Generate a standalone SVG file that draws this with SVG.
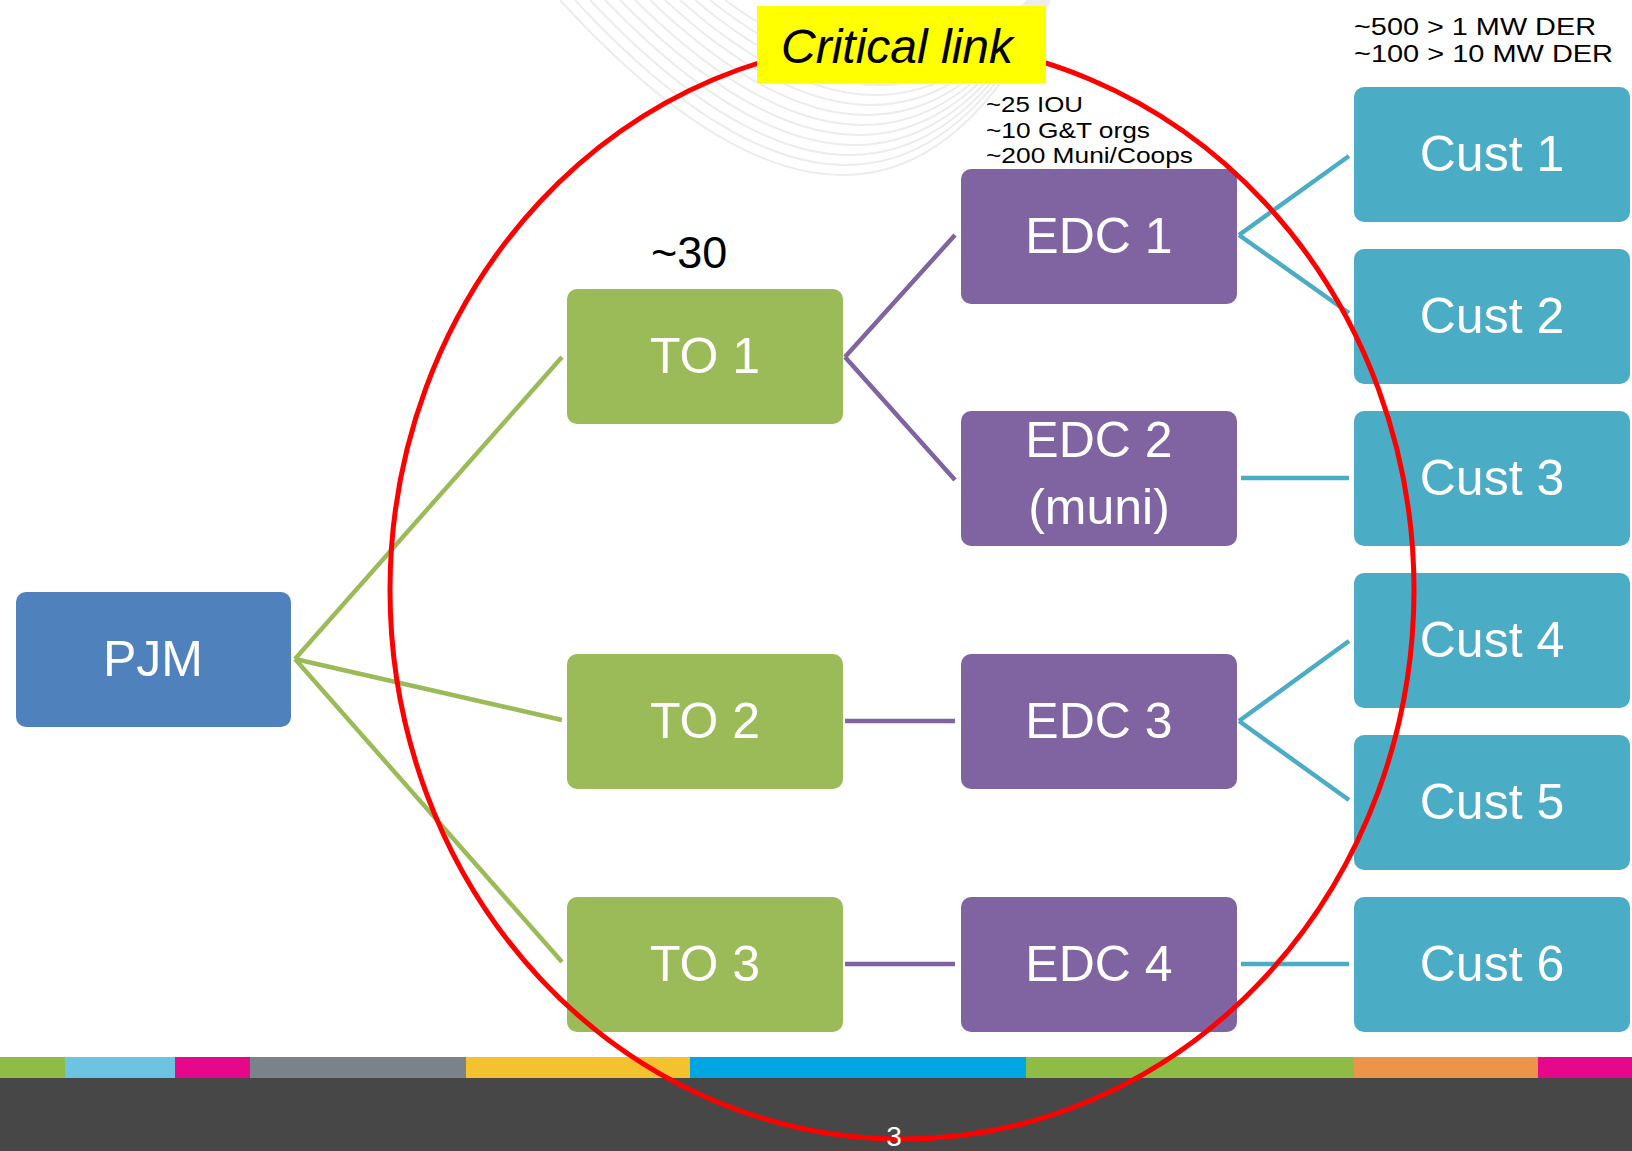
<svg xmlns="http://www.w3.org/2000/svg" width="1632" height="1151" viewBox="0 0 1632 1151">
<style>
.node text{font-family:"Liberation Sans",Arial,sans-serif;font-size:50px;fill:#ffffff;text-anchor:middle}
.lbl{font-family:"Liberation Sans",Arial,sans-serif;fill:#000000}
.to rect{fill:#9BBB59}
.edc rect{fill:#8064A2}
.cust rect{fill:#4BACC6}
.pjm rect{fill:#4F81BD}
.g{stroke:#9BBB59;stroke-width:4.5;fill:none}
.p{stroke:#8064A2;stroke-width:4.5;fill:none}
.b{stroke:#4BACC6;stroke-width:4.5;fill:none}
.wm{stroke:#ececec;stroke-width:2;fill:none}
</style>
<rect x="0" y="0" width="1632" height="1151" fill="#ffffff"/>
<g id="watermark">
<path class="wm" d="M560,0 Q880,350 1050,0"/>
<path class="wm" d="M575,0 Q880,330 1048,0"/>
<path class="wm" d="M590,0 Q882,310 1046,0"/>
<path class="wm" d="M605,0 Q884,290 1044,0"/>
<path class="wm" d="M620,0 Q886,270 1042,0"/>
<path class="wm" d="M635,0 Q888,250 1040,0"/>
<path class="wm" d="M650,0 Q890,230 1038,0"/>
<path class="wm" d="M665,0 Q892,210 1036,0"/>
<path class="wm" d="M680,0 Q894,190 1034,0"/>
<path class="wm" d="M695,0 Q896,170 1032,0"/>
<path class="wm" d="M710,0 Q898,150 1030,0"/>
<path class="wm" d="M725,0 Q900,130 1028,0"/>
</g>
<g id="footer">
<rect x="0" y="1078" width="1632" height="73" fill="#474747"/>
<rect x="0" y="1057" width="65" height="21" fill="#8FBC45"/>
<rect x="65" y="1057" width="110" height="21" fill="#6CC3E2"/>
<rect x="175" y="1057" width="75" height="21" fill="#E6078A"/>
<rect x="250" y="1057" width="216" height="21" fill="#7A8389"/>
<rect x="466" y="1057" width="224" height="21" fill="#F4C22F"/>
<rect x="690" y="1057" width="336" height="21" fill="#00A6E2"/>
<rect x="1026" y="1057" width="328" height="21" fill="#8FBC45"/>
<rect x="1354" y="1057" width="184" height="21" fill="#EC9548"/>
<rect x="1538" y="1057" width="94" height="21" fill="#E6078A"/>
</g>
<g id="connectors">
<path class="g" d="M295,659 L562,357 M295,659 L562,720 M295,659 L562,962"/>
<path class="p" d="M845,357 L955,235 M845,357 L955,480 M845,721 L955,721 M845,964 L955,964"/>
<path class="b" d="M1239,235 L1349,156 M1239,235 L1349,313 M1241,478 L1349,478 M1239,721 L1349,641 M1239,721 L1349,800 M1241,964 L1349,964"/>
</g>
<g id="pjm" class="node pjm"><rect x="16" y="592" width="275" height="135" rx="10"/><text x="153" y="676">PJM</text></g>
<g id="to1" class="node to"><rect x="567" y="289" width="276" height="135" rx="10"/><text x="705" y="373">TO 1</text></g>
<g id="to2" class="node to"><rect x="567" y="654" width="276" height="135" rx="10"/><text x="705" y="738">TO 2</text></g>
<g id="to3" class="node to"><rect x="567" y="897" width="276" height="135" rx="10"/><text x="705" y="981">TO 3</text></g>
<g id="edc1" class="node edc"><rect x="961" y="169" width="276" height="135" rx="10"/><text x="1099" y="253">EDC 1</text></g>
<g id="edc2" class="node edc"><rect x="961" y="411" width="276" height="135" rx="10"/><text x="1099" y="457">EDC 2</text><text x="1099" y="524">(muni)</text></g>
<g id="edc3" class="node edc"><rect x="961" y="654" width="276" height="135" rx="10"/><text x="1099" y="738">EDC 3</text></g>
<g id="edc4" class="node edc"><rect x="961" y="897" width="276" height="135" rx="10"/><text x="1099" y="981">EDC 4</text></g>
<g id="cust1" class="node cust"><rect x="1354" y="87" width="276" height="135" rx="10"/><text x="1492" y="171">Cust 1</text></g>
<g id="cust2" class="node cust"><rect x="1354" y="249" width="276" height="135" rx="10"/><text x="1492" y="333">Cust 2</text></g>
<g id="cust3" class="node cust"><rect x="1354" y="411" width="276" height="135" rx="10"/><text x="1492" y="495">Cust 3</text></g>
<g id="cust4" class="node cust"><rect x="1354" y="573" width="276" height="135" rx="10"/><text x="1492" y="657">Cust 4</text></g>
<g id="cust5" class="node cust"><rect x="1354" y="735" width="276" height="135" rx="10"/><text x="1492" y="819">Cust 5</text></g>
<g id="cust6" class="node cust"><rect x="1354" y="897" width="276" height="135" rx="10"/><text x="1492" y="981">Cust 6</text></g>
<g id="labels">
<text class="lbl" x="651" y="268" font-size="45">~30</text>
<text class="lbl" x="986" y="112" font-size="22" textLength="97" lengthAdjust="spacingAndGlyphs">~25 IOU</text>
<text class="lbl" x="986" y="138" font-size="22" textLength="164" lengthAdjust="spacingAndGlyphs">~10 G&amp;T orgs</text>
<text class="lbl" x="986" y="163" font-size="22" textLength="207" lengthAdjust="spacingAndGlyphs">~200 Muni/Coops</text>
<text class="lbl" x="1354" y="35" font-size="23" textLength="242" lengthAdjust="spacingAndGlyphs">~500 &gt; 1 MW DER</text>
<text class="lbl" x="1354" y="62" font-size="23" textLength="259" lengthAdjust="spacingAndGlyphs">~100 &gt; 10 MW DER</text>
</g>
<g id="critical-ring">
<ellipse cx="902" cy="590" rx="512" ry="549" fill="none" stroke="#FF0000" stroke-width="5"/>
</g>
<g id="critical-link">
<rect x="757" y="6" width="289" height="77" fill="#FFFF00"/>
<text class="lbl" x="781" y="63" font-size="48" font-style="italic">Critical link</text>
</g>
<text x="894" y="1146" font-family="Liberation Sans,Arial,sans-serif" font-size="28" fill="#ffffff" text-anchor="middle">3</text>
</svg>
